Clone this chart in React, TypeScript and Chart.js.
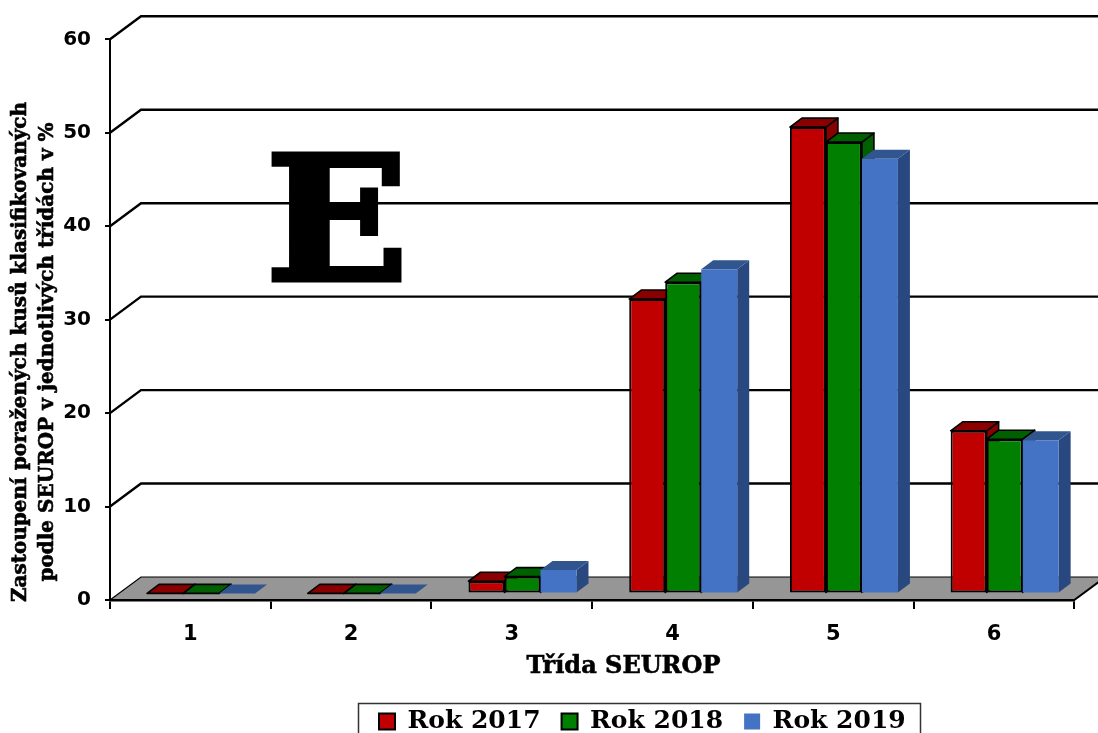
import React, { useEffect, useRef } from "react";
import { Chart, registerables } from "chart.js";

Chart.register(...registerables);

const categories = ["1", "2", "3", "4", "5", "6"];
const rok2017 = [0, 0, 1.3, 31.5, 49.9, 17.4];
const rok2018 = [0, 0, 1.8, 33.3, 48.3, 16.5];
const rok2019 = [0, 0, 2.5, 34.7, 46.5, 16.4];
const yTitleLines = ["Zastoupení poražených kusů klasifikovaných", "podle SEUROP v jednotlivých třídách v %"];
const xTitle = "Třída SEUROP";
const bigLetter = "E";

const SERIF = "'DejaVu Serif', serif";
const SANS = "'DejaVu Sans', sans-serif";
const WALL_DX = 31;
const WALL_DY = 23;
const BAR_DX = 10.7;
const BAR_DY = 6.6;
const DEPTH_DX = 12;
const DEPTH_DY = 9;
const LEGEND_PAD = 21;
const LEGEND_H = 57.5;

const darkColors = ["#8a0000", "#006000", "#30558f"];
const sideColors = ["#8a0000", "#006000", "#2a4880"];

const poly = (ctx: CanvasRenderingContext2D, pts: number[][], fill: string, stroke: boolean) => {
  ctx.beginPath();
  pts.forEach(([x, y], i) => (i ? ctx.lineTo(x, y) : ctx.moveTo(x, y)));
  ctx.closePath();
  ctx.fillStyle = fill;
  ctx.fill();
  if (stroke) {
    ctx.strokeStyle = "#000";
    ctx.lineWidth = 1.6;
    ctx.lineJoin = "round";
    ctx.stroke();
  }
};

const scene3d = {
  id: "scene3d",
  afterLayout(chart: any) {
    const lg = chart.legend;
    if (!lg) return;
    const w = lg.width;
    lg.left = 358;
    lg.right = lg.left + w;
    lg.top = 688;
    lg.bottom = lg.top + lg.height;
  },
  beforeDraw(chart: any) {
    const { ctx, chartArea: a, scales } = chart;
    ctx.save();
    const y0 = scales.y.getPixelForValue(0);
    // floor
    poly(
      ctx,
      [
        [a.left, y0],
        [a.right, y0],
        [a.right + WALL_DX, y0 - WALL_DY],
        [a.left + WALL_DX, y0 - WALL_DY],
      ],
      "#969696",
      false
    );
    ctx.strokeStyle = "#000";
    ctx.lineWidth = 2.4;
    scales.y.ticks.forEach((t: any) => {
      const y = scales.y.getPixelForValue(t.value);
      ctx.lineWidth = t.value === 0 ? 1.2 : 2.4;
      ctx.beginPath();
      ctx.moveTo(a.left, y);
      ctx.lineTo(a.left + WALL_DX, y - WALL_DY);
      ctx.lineTo(chart.width + 40, y - WALL_DY);
      ctx.stroke();
    });
    ctx.lineWidth = 2;
    ctx.beginPath();
    ctx.moveTo(a.right, y0);
    ctx.lineTo(a.right + WALL_DX, y0 - WALL_DY);
    ctx.stroke();
    ctx.restore();
  },
  beforeDatasetsDraw(chart: any) {
    const { ctx } = chart;
    ctx.save();
    ctx.translate(BAR_DX, -BAR_DY);
    categories.forEach((_, j) => {
      chart.data.datasets.forEach((ds: any, i: number) => {
        const b = chart.getDatasetMeta(i).data[j];
        const l = b.x - b.width / 2;
        const r = b.x + b.width / 2;
        const outline = ds.borderWidth > 0;
        poly(
          ctx,
          [
            [r, b.y],
            [r + DEPTH_DX, b.y - DEPTH_DY],
            [r + DEPTH_DX, b.base - DEPTH_DY],
            [r, b.base],
          ],
          sideColors[i],
          outline
        );
        poly(
          ctx,
          [
            [l, b.y],
            [l + DEPTH_DX, b.y - DEPTH_DY],
            [r + DEPTH_DX, b.y - DEPTH_DY],
            [r, b.y],
          ],
          darkColors[i],
          outline
        );
      });
    });
  },
  afterDatasetsDraw(chart: any) {
    chart.ctx.restore();
  },
  afterDraw(chart: any) {
    const { ctx } = chart;
    ctx.save();
    ctx.fillStyle = "#000";
    ctx.strokeStyle = "#000";
    ctx.textAlign = "center";
    // big letter
    ctx.save();
    ctx.translate(337, 279.5);
    ctx.scale(1.09, 1);
    ctx.font = `bold 172px ${SERIF}`;
    ctx.textBaseline = "alphabetic";
    ctx.fillText(bigLetter, 0, 0);
    ctx.lineWidth = 5;
    ctx.lineJoin = "miter";
    ctx.strokeText(bigLetter, 0, 0);
    ctx.restore();
    // x title
    ctx.textBaseline = "middle";
    ctx.lineWidth = 0.6;
    ctx.font = `bold 24px ${SERIF}`;
    ctx.fillText(xTitle, 623.5, 667);
    ctx.strokeText(xTitle, 623.5, 667);
    // y title
    ctx.font = `bold 20px ${SERIF}`;
    ctx.translate(21, 352);
    ctx.rotate(-Math.PI / 2);
    ctx.fillText(yTitleLines[0], 0, 0);
    ctx.strokeText(yTitleLines[0], 0, 0);
    ctx.fillText(yTitleLines[1], 0, 27);
    ctx.strokeText(yTitleLines[1], 0, 27);
    ctx.restore();
    // legend frame
    ctx.save();
    ctx.strokeStyle = "#333";
    ctx.lineWidth = 1.5;
    ctx.strokeRect(358.5, 703.5, 562, 40);
    ctx.restore();
  },
};

export default function App() {
  const ref = useRef<HTMLCanvasElement>(null);
  useEffect(() => {
    document.body.style.margin = "0";
    const mk = (label: string, data: number[], color: string, bw: number) => ({
      label,
      data,
      backgroundColor: color,
      borderColor: bw ? "#000" : color,
      borderWidth: bw,
      borderSkipped: false,
      clip: false,
      categoryPercentage: 0.672,
      barPercentage: 1,
    });
    const chart = new Chart(ref.current!, {
      type: "bar",
      data: {
        labels: categories,
        datasets: [
          mk("Rok 2017", rok2017, "#c00000", 2),
          mk("Rok 2018", rok2018, "#007f00", 2),
          mk("Rok 2019", rok2019, "#4472c4", 0),
        ] as any,
      },
      options: {
        responsive: false,
        animation: false,
        layout: { padding: { top: 39.3, right: 1098 - 1074.3, left: 0, bottom: 0 } },
        plugins: {
          title: { display: false },
          tooltip: { enabled: false },
          legend: {
            display: true,
            position: "bottom",
            align: "start",
            labels: {
              boxWidth: 16,
              boxHeight: 16,
              padding: LEGEND_PAD,
              color: "#000",
              font: { family: SERIF, size: 25, weight: "bold" },
            },
          },
        },
        scales: {
          x: {
            grid: { drawOnChartArea: false, color: "#000", lineWidth: 2, tickLength: 9 },
            border: { color: "#000", width: 2.5 },
            ticks: { color: "#000", padding: 13, font: { family: SANS, size: 21, weight: "bold" } },
            afterFit: (s: any) => {
              s.height = 134.5 - LEGEND_H;
            },
          },
          y: {
            min: 0,
            max: 60,
            grid: { drawOnChartArea: false, color: "#000", lineWidth: 2, tickLength: 5 },
            border: { color: "#000", width: 2 },
            ticks: { stepSize: 10, color: "#000", padding: 14, font: { family: SANS, size: 20, weight: "bold" } },
            afterFit: (s: any) => {
              s.width = 110;
            },
          },
        },
      },
      plugins: [scene3d],
    } as any);
    return () => chart.destroy();
  }, []);
  return <canvas ref={ref} width={1098} height={733} style={{ display: "block" }} />;
}
